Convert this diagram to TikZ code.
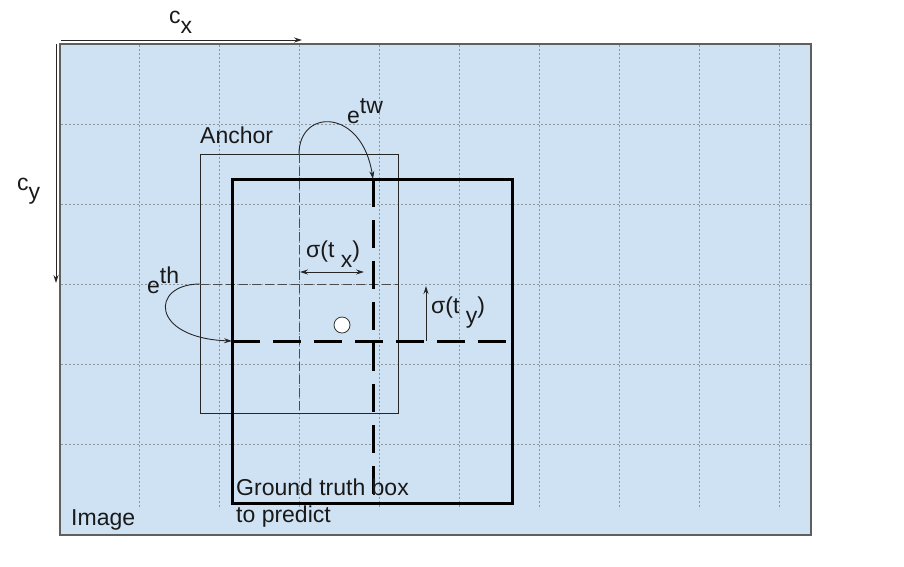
\documentclass[tikz,border=0pt]{standalone}
\usepackage{fontspec}
\setmainfont{Liberation Sans}
\usetikzlibrary{arrows.meta}
\definecolor{imgblue}{HTML}{CFE2F3}
\definecolor{gridgray}{HTML}{8C959E}
\definecolor{bordergray}{HTML}{5F5F5F}
\begin{document}
\begin{tikzpicture}[x=1pt,y=-1pt,
  lbl/.style={font=\fontsize{23}{27}\selectfont, inner sep=0pt, anchor=base west, text=black!90},
  gridline/.style={draw=gridgray, line width=1pt, dash pattern=on 2pt off 2pt},
  thinbox/.style={draw=black!85, line width=0.9pt},
  thickbox/.style={draw=black, line width=3pt},
  thickdash/.style={draw=black, line width=3pt, dash pattern=on 28pt off 13pt},
  thindash/.style={draw=black!70, line width=0.9pt, dash pattern=on 9pt off 4pt},
  arr/.style={-{Stealth[length=8pt,width=5pt]}, line width=0.9pt, draw=black!85},
  darr/.style={{Stealth[length=8pt,width=5pt]}-{Stealth[length=8pt,width=5pt]}, line width=0.9pt, draw=black!85},
]
\useasboundingbox (0,0) rectangle (904,566);
% image
\coordinate (imgTL) at (60,44);
\coordinate (imgBR) at (811,535);
\fill[imgblue] (imgTL) rectangle (imgBR);
\foreach \x in {139,219,299,379,459,539,619,699,779}
  \draw[gridline] (\x,45) -- (\x,509);
\foreach \y in {124,204,284,364,444}
  \draw[gridline] (61,\y) -- (810,\y);
\draw[draw=bordergray, line width=1.2pt] (imgTL) rectangle (imgBR);
% axes arrows
\coordinate (cxS) at (61,40);
\coordinate (cxE) at (302,40);
\coordinate (cyS) at (56,44);
\coordinate (cyE) at (56,283);
\draw[arr] (cxS) -- (cxE);
\draw[arr] (cyS) -- (cyE);
\node[lbl] (cx) at (169,23) {c\raisebox{-10pt}{x}};
\node[lbl] (cy) at (17,190) {c\raisebox{-9pt}{y}};
% anchor box
\coordinate (aTL) at (200,154);
\coordinate (aBR) at (398,413);
\coordinate (aTop) at (299,154);
\coordinate (aBot) at (299,413);
\coordinate (aLeft) at (200,284);
\coordinate (aRight) at (398,284);
\draw[thinbox] (aTL) rectangle (aBR);
\draw[thindash] (aTop) -- (aBot);
\draw[thindash] (aLeft) -- (aRight);
\node[lbl] (anchorlbl) at (200,143) {Anchor};
% ground truth box
\coordinate (gTL) at (232,179);
\coordinate (gBR) at (512,503);
\coordinate (gTop) at (373,179);
\coordinate (gBot) at (373,503);
\coordinate (gLeft) at (232,341);
\coordinate (gRight) at (512,341);
\draw[thickdash] (gTop) -- (gBot);
\draw[thickdash] (gLeft) -- (gRight);
\draw[thickbox] (gTL) rectangle (gBR);
% center dot
\node[circle, draw=black!80, fill=white, line width=0.8pt, minimum size=16pt, inner sep=0pt] (dot) at (342,325) {};
% e^tw arc
\draw[arr] (aTop) .. controls (299,108) and (362,108) .. (gTop);
\node[lbl] (etw) at (347,123) {e\raisebox{10pt}{tw}};
% e^th arc
\draw[arr] (aLeft) .. controls (150,284) and (150,338) .. (gLeft);
\node[lbl] (eth) at (147,293) {e\raisebox{10pt}{th}};
% sigma(t_x)
\coordinate (sxL) at (300,272);
\coordinate (sxR) at (364,272);
\draw[darr] (sxL) -- (sxR);
\node[lbl] (sxlbl) at (306,257) {σ(t \raisebox{-10pt}{x})};
% sigma(t_y)
\coordinate (syB) at (426,341);
\coordinate (syT) at (426,286);
\draw[arr] (syB) -- (syT);
\node[lbl] (sylbl) at (431,313) {σ(t \raisebox{-10pt}{y})};
% texts
\node[lbl] (gtlbl1) at (236,495) {Ground truth box};
\node[lbl] (gtlbl2) at (236,522) {to predict};
\node[lbl] (imglbl) at (71,525) {Image};
\end{tikzpicture}
\end{document}
